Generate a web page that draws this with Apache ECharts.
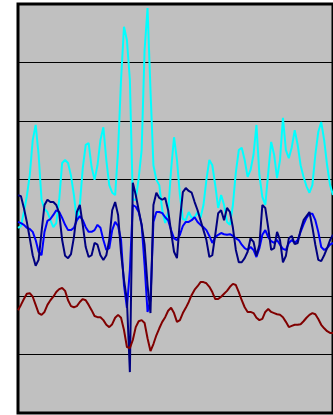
<!DOCTYPE html>
<html>
<head>
<meta charset="utf-8">
<style>
  html, body { margin: 0; padding: 0; background: #ffffff; }
  #chart { width: 333px; height: 415px; }
</style>
<script src="https://cdn.jsdelivr.net/npm/echarts@6/dist/echarts.min.js"></script>
</head>
<body>
<div id="chart"></div>
<script>
// Four indicator series sampled at the same periods
const cyanSeries = [
  3.17, 3.20, 3.44, 3.71, 4.07, 4.67, 4.93, 4.42, 3.65, 3.49,
  3.44, 3.30, 3.18, 3.25, 3.65, 4.28, 4.33, 4.28, 4.06, 3.73,
  3.29, 3.56, 4.19, 4.59, 4.62, 4.21, 3.99, 4.24, 4.67, 4.89,
  4.33, 3.90, 3.77, 3.73, 4.50, 5.70, 6.61, 6.38, 5.70, 3.65,
  3.65, 4.02, 4.50, 6.21, 6.93, 5.53, 4.24, 3.99, 3.90, 3.47,
  3.25, 3.44, 4.16, 4.72, 4.33, 3.73, 3.32, 3.30, 3.44, 3.34,
  3.35, 3.44, 3.34, 3.56, 3.99, 4.33, 4.24, 3.90, 3.51, 3.73,
  3.56, 3.27, 3.22, 3.56, 4.12, 4.50, 4.54, 4.33, 4.04, 4.16,
  4.42, 4.93, 4.07, 3.70, 3.56, 4.11, 4.64, 4.42, 4.02, 4.33,
  5.05, 4.50, 4.36, 4.55, 4.84, 4.59, 4.24, 4.04, 3.88, 3.77,
  3.90, 4.42, 4.81, 4.98, 4.67, 4.24, 3.90, 3.73
];
const blueSeries = [
  3.27, 3.25, 3.22, 3.17, 3.15, 3.10, 2.96, 2.76, 2.70, 3.10,
  3.29, 3.32, 3.39, 3.47, 3.44, 3.34, 3.22, 3.13, 3.13, 3.17,
  3.30, 3.37, 3.30, 3.18, 3.10, 3.10, 3.13, 3.22, 3.17, 2.96,
  2.79, 2.82, 3.13, 3.27, 3.20, 2.96, 2.19, 1.80, 2.45, 3.56,
  3.53, 3.44, 3.22, 2.53, 1.73, 1.93, 3.27, 3.44, 3.44, 3.42,
  3.35, 3.30, 3.13, 2.99, 2.96, 3.05, 3.20, 3.27, 3.27, 3.30,
  3.35, 3.27, 3.22, 3.18, 3.13, 3.03, 2.91, 3.01, 3.05, 3.08,
  3.06, 3.05, 3.06, 3.03, 2.99, 2.96, 2.88, 2.82, 2.79, 2.84,
  2.79, 2.67, 2.82, 3.05, 3.13, 3.01, 2.94, 2.91, 2.96, 2.88,
  2.81, 2.79, 2.91, 2.96, 2.91, 2.96, 3.10, 3.23, 3.34, 3.41,
  3.41, 3.30, 3.10, 2.84, 2.79, 2.82, 2.88, 2.91
];
const navySeries = [
  3.73, 3.71, 3.51, 3.27, 2.99, 2.70, 2.52, 2.62, 3.10, 3.56,
  3.65, 3.61, 3.61, 3.56, 3.42, 2.96, 2.69, 2.65, 2.72, 3.01,
  3.44, 3.56, 3.22, 2.84, 2.67, 2.70, 2.91, 2.88, 2.70, 2.62,
  2.70, 2.96, 3.47, 3.61, 3.39, 2.74, 2.28, 1.93, 0.70, 3.94,
  3.73, 3.47, 3.22, 2.88, 2.19, 1.71, 3.56, 3.77, 3.68, 3.65,
  3.68, 3.47, 3.10, 2.76, 2.65, 3.30, 3.78, 3.85, 3.80, 3.77,
  3.61, 3.47, 3.30, 3.13, 2.96, 2.67, 2.70, 3.05, 3.42, 3.47,
  3.30, 3.51, 3.44, 3.17, 2.79, 2.58, 2.58, 2.65, 2.76, 2.99,
  2.93, 2.69, 2.88, 3.56, 3.51, 3.17, 2.79, 2.82, 3.10, 2.96,
  2.58, 2.69, 2.99, 3.03, 2.89, 2.91, 3.13, 3.30, 3.37, 3.44,
  3.18, 2.88, 2.62, 2.60, 2.70, 2.82, 2.96, 3.05
];
const maroonSeries = [
  1.76, 1.85, 1.95, 2.04, 2.05, 1.99, 1.85, 1.71, 1.68, 1.73,
  1.85, 1.93, 1.99, 2.07, 2.12, 2.14, 2.09, 1.93, 1.83, 1.81,
  1.83, 1.90, 1.95, 1.93, 1.85, 1.76, 1.66, 1.64, 1.64, 1.59,
  1.51, 1.47, 1.52, 1.63, 1.68, 1.63, 1.42, 1.13, 1.11, 1.25,
  1.47, 1.57, 1.59, 1.54, 1.28, 1.06, 1.18, 1.33, 1.45, 1.56,
  1.64, 1.75, 1.80, 1.71, 1.56, 1.59, 1.71, 1.80, 1.90, 2.02,
  2.11, 2.17, 2.24, 2.24, 2.22, 2.16, 2.07, 1.95, 1.95, 1.99,
  2.04, 2.09, 2.16, 2.21, 2.19, 2.07, 1.93, 1.81, 1.73, 1.73,
  1.71, 1.63, 1.59, 1.61, 1.73, 1.78, 1.73, 1.71, 1.69, 1.68,
  1.64, 1.56, 1.47, 1.49, 1.51, 1.51, 1.52, 1.57, 1.63, 1.68,
  1.71, 1.69, 1.61, 1.51, 1.45, 1.40, 1.37, 1.37
];
// Period index shared by all series
const periods = cyanSeries.map((_, i) => i + 1);

const chart = echarts.init(document.getElementById('chart'), null, { renderer: 'canvas' });

function lineSeries(name, data, color) {
  return {
    name: name,
    type: 'line',
    data: data,
    showSymbol: false,
    symbol: 'none',
    smooth: false,
    lineStyle: { color: color, width: 2 },
    itemStyle: { color: color },
    emphasis: { disabled: true }
  };
}

chart.setOption({
  animation: false,
  backgroundColor: '#ffffff',
  grid: {
    left: 18,
    top: 4,
    width: 321,
    height: 409,
    show: true,
    backgroundColor: '#C0C0C0',
    borderColor: '#000000',
    borderWidth: 3
  },
  xAxis: {
    type: 'category',
    data: periods,
    boundaryGap: false,
    axisLine: { show: false },
    axisTick: { show: false },
    axisLabel: { show: false },
    splitLine: { show: false }
  },
  yAxis: {
    type: 'value',
    min: 0,
    max: 7,
    interval: 1,
    axisLine: { show: false },
    axisTick: { show: false },
    axisLabel: { show: false },
    splitLine: { show: true, lineStyle: { color: '#000000', width: 1 } }
  },
  series: [
    lineSeries('Cyan', cyanSeries, '#00FFFF'),
    lineSeries('Blue', blueSeries, '#0000FF'),
    lineSeries('Navy', navySeries, '#000080'),
    lineSeries('Maroon', maroonSeries, '#800000')
  ]
});
</script>
</body>
</html>
